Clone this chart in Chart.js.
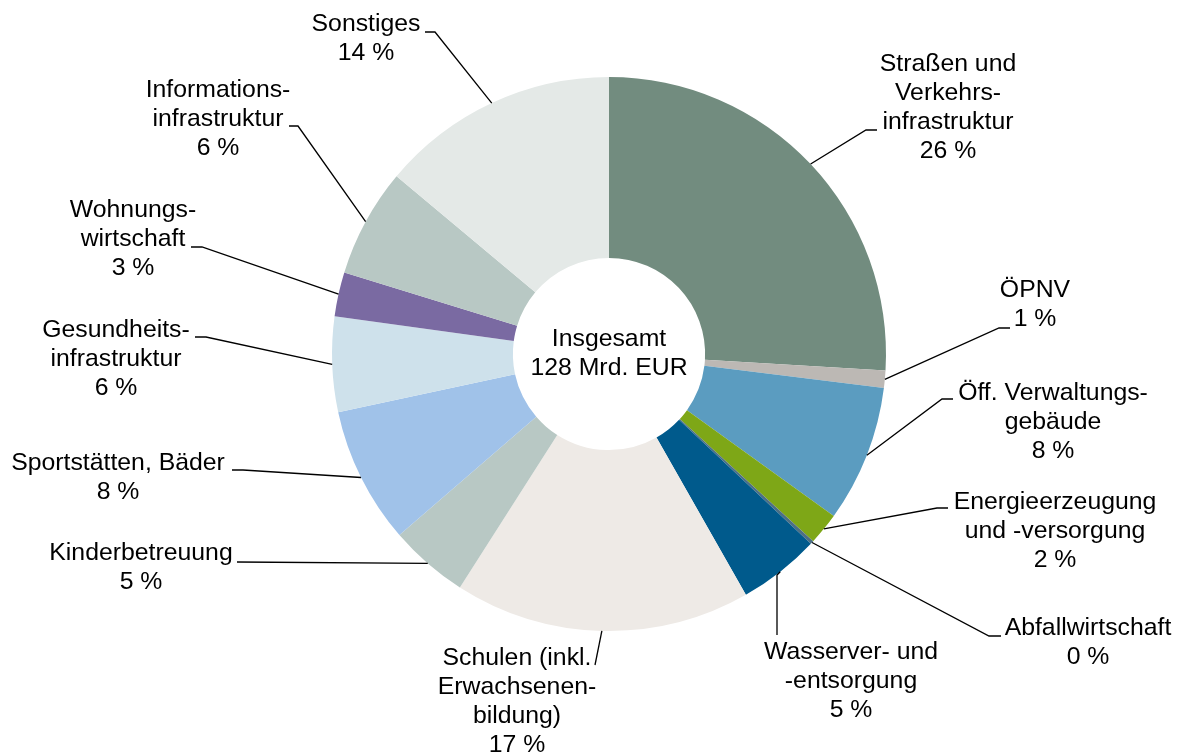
<!DOCTYPE html>
<html>
<head>
<meta charset="utf-8">
<script src="https://cdn.jsdelivr.net/npm/chart.js@4"></script>
<style>
  html, body { margin: 0; padding: 0; background: #ffffff; }
  #wrap { width: 1177px; height: 756px; position: relative; }
</style>
</head>
<body>
<div id="wrap"><canvas id="c" width="1177" height="756"></canvas></div>
<script>
// ---- data ----
const categories = [
  ["Straßen und", "Verkehrs-", "infrastruktur"],
  ["ÖPNV"],
  ["Öff. Verwaltungs-", "gebäude"],
  ["Energieerzeugung", "und -versorgung"],
  ["Abfallwirtschaft"],
  ["Wasserver- und", "-entsorgung"],
  ["Schulen (inkl.", "Erwachsenen-", "bildung)"],
  ["Kinderbetreuung"],
  ["Sportstätten, Bäder"],
  ["Gesundheits-", "infrastruktur"],
  ["Wohnungs-", "wirtschaft"],
  ["Informations-", "infrastruktur"],
  ["Sonstiges"]
];
// investment in Mrd. EUR (total 128)
const values = [33.2, 1.3, 10.2, 2.4, 0.25, 6.1, 22.1, 5.9, 10.2, 7.1, 3.3, 8.1, 17.8];
const pctLabels = ["26 %", "1 %", "8 %", "2 %", "0 %", "5 %", "17 %", "5 %", "8 %", "6 %", "3 %", "6 %", "14 %"];
const centerLines = ["Insgesamt", "128 Mrd. EUR"];

// ---- styles / layout ----
const colors = ["#728c7f", "#bcb8b4", "#5b9cc0", "#7ea717", "#4d6f84", "#005a8c",
                "#eeeae6", "#b8c8c4", "#a0c2e9", "#cee1eb", "#7a6aa2", "#b8c8c4", "#e4e9e7"];
// text block: center x, y of first line
const labelPos = [
  [948, 64], [1035, 290], [1053, 393], [1055, 502], [1088, 628], [851, 652],
  [517, 658], [141, 553], [118, 463], [116, 330], [133, 210], [218, 90], [366, 24]
];
// leader: elbow point then end point near the text
const leaderPts = [
  [[866, 130], [877, 130]],
  [[999, 328], [1010, 328]],
  [[942, 399], [953, 399]],
  [[937, 508], [948, 508]],
  [[989, 636], [1001, 636]],
  [[777, 575], [777, 635]],
  [[595, 665], [595, 665]],
  [[237, 562], [237, 562]],
  [[243, 470], [232, 470]],
  [[206, 337], [195, 337]],
  [[202, 247], [191, 247]],
  [[298, 126], [289, 126]],
  [[435, 32], [425, 32]]
];
const FONT = "24.8px 'Liberation Sans', Arial, sans-serif";
const LINE_H = 29;

const labelPlugin = {
  id: 'labelPlugin',
  afterDraw(chart) {
    const ctx = chart.ctx;
    const meta = chart.getDatasetMeta(0);
    ctx.save();
    ctx.strokeStyle = '#000000';
    ctx.lineWidth = 1.3;
    meta.data.forEach((arc, i) => {
      const mid = (arc.startAngle + arc.endAngle) / 2;
      const sx = arc.x + Math.cos(mid) * arc.outerRadius;
      const sy = arc.y + Math.sin(mid) * arc.outerRadius;
      const [elbow, end] = leaderPts[i];
      ctx.beginPath();
      ctx.moveTo(sx, sy);
      ctx.lineTo(elbow[0], elbow[1]);
      ctx.lineTo(end[0], end[1]);
      ctx.stroke();
    });
    ctx.fillStyle = '#000000';
    ctx.font = FONT;
    ctx.textAlign = 'center';
    ctx.textBaseline = 'middle';
    categories.forEach((lines, i) => {
      const all = lines.concat([pctLabels[i]]);
      const [x, y] = labelPos[i];
      all.forEach((t, k) => ctx.fillText(t, x, y + k * LINE_H));
    });
    // center text
    const a0 = meta.data[0];
    centerLines.forEach((t, k) => {
      ctx.fillText(t, a0.x, a0.y - 14.5 + k * LINE_H);
    });
    ctx.restore();
  }
};

new Chart(document.getElementById('c'), {
  type: 'doughnut',
  data: {
    labels: categories.map(l => l.join(' ')),
    datasets: [{
      data: values,
      backgroundColor: colors,
      borderWidth: 0
    }]
  },
  options: {
    responsive: false,
    animation: false,
    cutout: '34.7%',
    layout: { padding: { left: 100, right: 59, top: 77, bottom: 125 } },
    plugins: {
      legend: { display: false },
      tooltip: { enabled: false }
    }
  },
  plugins: [labelPlugin]
});
</script>
</body>
</html>
